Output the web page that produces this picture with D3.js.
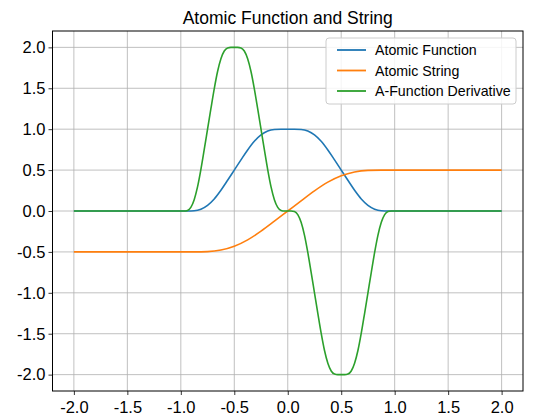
<!DOCTYPE html>
<html>
<head>
<meta charset="utf-8">
<script src="https://cdn.jsdelivr.net/npm/d3@7"></script>
<style>
  html, body { margin: 0; padding: 0; background: #fff; }
  svg { display: block; font-family: Arial, "Liberation Sans", sans-serif; }
</style>
</head>
<body>
<svg id="chart" width="535" height="419"></svg>
<script>
// values
const fnX = [-2, -1, -0.9375, -0.875, -0.8125, -0.75, -0.6875, -0.625, -0.5625, -0.5, -0.4375, -0.375, -0.3125, -0.25, -0.1875, -0.125, -0.0625,
  0, 0.0625, 0.125, 0.1875, 0.25, 0.3125, 0.375, 0.4375, 0.5, 0.5625, 0.625, 0.6875, 0.75, 0.8125, 0.875, 0.9375, 1, 2];
const fnY = [0, 0, 0.00007, 0.00347, 0.0225, 0.06944, 0.1475, 0.25347, 0.37507, 0.5, 0.62493, 0.74653, 0.8525, 0.93056, 0.9775, 0.99653, 0.99993,
  1, 0.99993, 0.99653, 0.9775, 0.93056, 0.8525, 0.74653, 0.62493, 0.5, 0.37507, 0.25347, 0.1475, 0.06944, 0.0225, 0.00347, 0.00007, 0, 0];

const strX = [-2, -1, -0.875, -0.75, -0.625, -0.5, -0.375, -0.25, -0.125, 0, 0.125, 0.25, 0.375, 0.5, 0.625, 0.75, 0.875, 1, 2];
const strY = [-0.5, -0.5, -0.49993, -0.49653, -0.4775, -0.43056, -0.3525, -0.24653, -0.12493, 0, 0.12493, 0.24653, 0.3525, 0.43056, 0.4775, 0.49653, 0.49993, 0.5, 0.5];

const derX = [-2, -1, -0.96875, -0.9375, -0.90625, -0.875, -0.84375, -0.8125, -0.78125, -0.75, -0.71875, -0.6875, -0.65625, -0.625, -0.59375, -0.5625, -0.53125,
  -0.5, -0.46875, -0.4375, -0.40625, -0.375, -0.34375, -0.3125, -0.28125, -0.25, -0.21875, -0.1875, -0.15625, -0.125, -0.09375, -0.0625, -0.03125,
  0, 0.03125, 0.0625, 0.09375, 0.125, 0.15625, 0.1875, 0.21875, 0.25, 0.28125, 0.3125, 0.34375, 0.375, 0.40625, 0.4375, 0.46875,
  0.5, 0.53125, 0.5625, 0.59375, 0.625, 0.65625, 0.6875, 0.71875, 0.75, 0.78125, 0.8125, 0.84375, 0.875, 0.90625, 0.9375, 0.96875, 1, 2];
const derY = [0, 0, 0.00014, 0.00694, 0.045, 0.13889, 0.295, 0.50694, 0.75014, 1.0, 1.24986, 1.49306, 1.705, 1.86111, 1.955, 1.99306, 1.99986,
  2, 1.99986, 1.99306, 1.955, 1.86111, 1.705, 1.49306, 1.24986, 1.0, 0.75014, 0.50694, 0.295, 0.13889, 0.045, 0.00694, 0.00014,
  0, -0.00014, -0.00694, -0.045, -0.13889, -0.295, -0.50694, -0.75014, -1.0, -1.24986, -1.49306, -1.705, -1.86111, -1.955, -1.99306, -1.99986,
  -2, -1.99986, -1.99306, -1.955, -1.86111, -1.705, -1.49306, -1.24986, -1.0, -0.75014, -0.50694, -0.295, -0.13889, -0.045, -0.00694, -0.00014, 0, 0];

const xTicks = [-2.0, -1.5, -1.0, -0.5, 0.0, 0.5, 1.0, 1.5, 2.0];
const yTicks = [-2.0, -1.5, -1.0, -0.5, 0.0, 0.5, 1.0, 1.5, 2.0];

const seriesNames = ['Atomic Function', 'Atomic String', 'A-Function Derivative'];
const seriesColors = ['#1f77b4', '#ff7f0e', '#2ca02c'];

const title = 'Atomic Function and String';

const svg = d3.select('#chart');
const margin = {left: 52.5, right: 12, top: 31, bottom: 28};
const W = 535, H = 419;

const x = d3.scaleLinear().domain([-2.2, 2.2]).range([margin.left, W - margin.right]);
const y = d3.scaleLinear().domain([-2.2, 2.2]).range([H - margin.bottom, margin.top]);

// grid
const grid = svg.append('g').attr('stroke', '#b0b0b0').attr('stroke-width', 0.8);
grid.selectAll('line.vx').data(xTicks).enter().append('line')
  .attr('x1', d => x(d)).attr('x2', d => x(d)).attr('y1', y(-2.2)).attr('y2', y(2.2));
grid.selectAll('line.hy').data(yTicks).enter().append('line')
  .attr('y1', d => y(d)).attr('y2', d => y(d)).attr('x1', x(-2.2)).attr('x2', x(2.2));

// lines
const line = d3.line().x(d => x(d[0])).y(d => y(d[1])).curve(d3.curveMonotoneX);
const series = [
  d3.zip(fnX, fnY),
  d3.zip(strX, strY),
  d3.zip(derX, derY)
];
svg.append('g').selectAll('path').data(series).enter().append('path')
  .attr('d', line).attr('fill', 'none')
  .attr('stroke', (d, i) => seriesColors[i]).attr('stroke-width', 1.6)
  .attr('stroke-linejoin', 'round');

// axes
const fmt = d => d.toFixed(1);
const xAxis = svg.append('g').attr('transform', `translate(0,${y(-2.2)})`)
  .call(d3.axisBottom(x).tickValues(xTicks).tickFormat(fmt).tickSizeOuter(0).tickSize(4));
const yAxis = svg.append('g').attr('transform', `translate(${x(-2.2)},0)`)
  .call(d3.axisLeft(y).tickValues(yTicks).tickFormat(fmt).tickSizeOuter(0).tickSize(4));
[xAxis, yAxis].forEach(a => {
  a.select('.domain').remove();
  a.selectAll('.tick line').attr('stroke', '#000').attr('stroke-width', 0.8);
  a.selectAll('.tick text').attr('fill', '#000').style('font-size', '16.5px')
    .style('font-family', 'Arial, "Liberation Sans", sans-serif');
});
xAxis.selectAll('.tick text').attr('dy', '0.95em').attr('y', 6);
yAxis.selectAll('.tick text').attr('x', -7);

// frame
svg.append('rect').attr('x', x(-2.2)).attr('y', y(2.2))
  .attr('width', x(2.2) - x(-2.2)).attr('height', y(-2.2) - y(2.2))
  .attr('fill', 'none').attr('stroke', '#000').attr('stroke-width', 1);

// title
svg.append('text').attr('x', (x(-2.2) + x(2.2)) / 2).attr('y', 24)
  .attr('text-anchor', 'middle').style('font-size', '17.5px').attr('fill', '#000').text(title);

// legend
const lg = svg.append('g').attr('transform', 'translate(326,38)');
lg.append('rect').attr('width', 190).attr('height', 66).attr('rx', 3)
  .attr('fill', '#fff').attr('fill-opacity', 0.85).attr('stroke', '#cccccc').attr('stroke-width', 1);
seriesNames.forEach((name, i) => {
  const row = lg.append('g').attr('transform', `translate(0,${12 + i * 20.5})`);
  row.append('line').attr('x1', 11).attr('x2', 40).attr('y1', 0).attr('y2', 0)
    .attr('stroke', seriesColors[i]).attr('stroke-width', 1.8);
  row.append('text').attr('x', 49).attr('y', 5).style('font-size', '14.2px').attr('fill', '#000').text(name);
});
</script>
</body>
</html>
